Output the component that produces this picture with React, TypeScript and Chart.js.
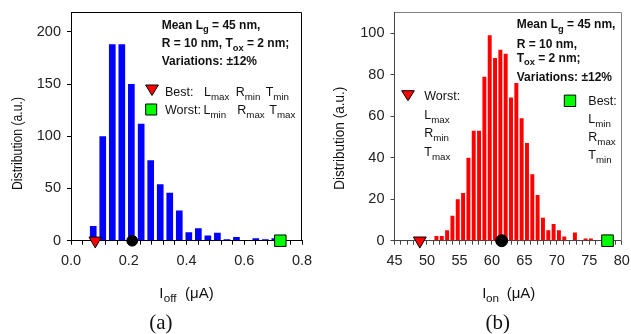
import React, { useEffect, useRef } from 'react';
import { Chart, registerables } from 'chart.js';

Chart.register(...registerables);

const FONT = "'Liberation Sans', Arial, Helvetica, sans-serif";
const SERIF = "'Liberation Serif', 'Times New Roman', serif";

// ---------- (a) I_off distribution ----------
const offBins = [0.077, 0.110, 0.143, 0.176, 0.209, 0.243, 0.276, 0.309, 0.342, 0.375, 0.408, 0.441, 0.474, 0.507, 0.540, 0.573, 0.607, 0.640, 0.673, 0.706];
const offCounts = [14, 100, 188, 188, 150, 112, 77, 54, 46, 29, 8, 12, 5, 7.5, 1.3, 3.5, 0, 2.3, 1.3, 2.3];
const offTriangleX = [0.084]; // Best: Lmax Rmin Tmin
const offMeanX = [0.212];
const offSquareX = [0.725]; // Worst: Lmin Rmax Tmax
const offXTickLabels = ['0.0', '0.2', '0.4', '0.6', '0.8'];
const offYTicks = [0, 50, 100, 150, 200];

// ---------- (b) I_on distribution ----------
const onBins = [51.46, 52.28, 53.10, 53.92, 54.74, 55.56, 56.38, 57.20, 58.02, 58.84, 59.66, 60.48, 61.30, 62.12, 62.94, 63.76, 64.58, 65.40, 66.22, 67.04, 67.86, 68.68, 69.50, 70.32, 71.14, 71.96, 72.78, 73.60, 74.42, 75.24];
const onCounts = [2.3, 2.3, 5, 12, 20, 23, 40, 53, 53, 79, 99, 88, 92, 90, 69, 76, 59, 47, 32, 22, 11, 5, 8, 5, 2, 0, 4, 0, 1, 1];
const onTriangleX = [48.9]; // Worst: Lmax Rmin Tmax
const onMeanX = [61.5];
const onSquareX = [77.8]; // Best: Lmin Rmax Tmin
const onXTickLabels = ['45', '50', '55', '60', '65', '70', '75', '80'];
const onYTicks = [0, 20, 40, 60, 80, 100];

type Seg = { t: string; sub?: boolean; x?: number };
type TextLine = { x: number; y: number; segs: Seg[]; size: number; bold?: boolean; family?: string; align?: 'left' | 'center' };
type Glyph = { kind: 'tri' | 'sq'; cx: number; top: number; w: number; h: number };

function drawLine(ctx: CanvasRenderingContext2D, L: TextLine) {
  const fam = L.family || FONT;
  const fontFor = (s: Seg) => `${L.bold ? 'bold ' : ''}${s.sub ? L.size * 0.78 : L.size}px ${fam}`;
  let total = 0;
  for (const s of L.segs) {
    ctx.font = fontFor(s);
    total += ctx.measureText(s.t).width;
  }
  let cx = L.align === 'center' ? L.x - total / 2 : L.x;
  ctx.textAlign = 'left';
  ctx.textBaseline = 'alphabetic';
  for (const s of L.segs) {
    if (s.x !== undefined) cx = s.x;
    ctx.font = fontFor(s);
    ctx.fillText(s.t, cx, L.y + (s.sub ? L.size * 0.33 : 0));
    cx += ctx.measureText(s.t).width;
  }
}

type Panel = {
  width: number; left: number;
  padTop: number; padRight: number; yWidth: number; xHeight: number;
  xMin: number; xMax: number; xStep: number; xLabels: string[];
  yMax: number; yTicks: number[];
  bins: number[]; counts: number[]; barColor: string; barPct: number;
  triX: number[]; meanX: number[]; sqX: number[];
  triR: number; circR: number; sqR: number;
  axisColor: string; frameColor: string;
  texts: TextLine[]; glyphs: Glyph[];
  yTitle: { x: number; cy: number; len: number };
};

function buildConfig(p: Panel): any {
  const overlay = {
    id: 'overlay',
    afterDraw(chart: any) {
      const ctx: CanvasRenderingContext2D = chart.ctx;
      const a = chart.chartArea;
      ctx.save();
      // frame (top and right)
      ctx.strokeStyle = p.frameColor;
      ctx.lineWidth = 1;
      ctx.beginPath();
      const t = Math.round(a.top) + 0.5;
      const r = Math.round(a.right) - 0.5;
      ctx.moveTo(Math.round(a.left), t);
      ctx.lineTo(r, t);
      ctx.lineTo(r, Math.round(a.bottom));
      ctx.stroke();
      // texts
      ctx.fillStyle = '#111';
      for (const L of p.texts) drawLine(ctx, L);
      // y title
      ctx.save();
      ctx.translate(p.yTitle.x, p.yTitle.cy);
      ctx.rotate(-Math.PI / 2);
      ctx.font = `15px ${FONT}`;
      const txt = 'Distribution (a.u.)';
      const w = ctx.measureText(txt).width;
      ctx.scale(p.yTitle.len / w, 1);
      ctx.textAlign = 'center';
      ctx.textBaseline = 'alphabetic';
      ctx.fillText(txt, 0, 0);
      ctx.restore();
      // legend glyphs
      for (const g of p.glyphs) {
        ctx.beginPath();
        if (g.kind === 'tri') {
          ctx.moveTo(g.cx - g.w / 2, g.top);
          ctx.lineTo(g.cx + g.w / 2, g.top);
          ctx.lineTo(g.cx, g.top + g.h);
          ctx.closePath();
          ctx.fillStyle = '#FF0000';
        } else {
          ctx.rect(g.cx - g.w / 2, g.top, g.w, g.h);
          ctx.fillStyle = '#00FF00';
        }
        ctx.fill();
        ctx.strokeStyle = '#000';
        ctx.lineWidth = 1;
        ctx.stroke();
      }
      ctx.restore();
    },
  };

  const tickFont = { family: FONT, size: 14.5 };
  return {
    type: 'bar',
    data: {
      datasets: [
        {
          type: 'scatter', data: p.triX.map((x) => ({ x, y: 0 })), pointStyle: 'triangle', rotation: 180,
          pointRadius: p.triR, backgroundColor: '#FF0000', borderColor: '#000', borderWidth: 1, clip: false, order: 0,
        },
        {
          type: 'scatter', data: p.meanX.map((x) => ({ x, y: 0 })), pointStyle: 'circle',
          pointRadius: p.circR, backgroundColor: '#000', borderColor: '#000', borderWidth: 1, clip: false, order: 0,
        },
        {
          type: 'scatter', data: p.sqX.map((x) => ({ x, y: 0 })), pointStyle: 'rect',
          pointRadius: p.sqR, backgroundColor: '#00FF00', borderColor: '#000', borderWidth: 1, clip: false, order: 0,
        },
        {
          type: 'bar', data: p.bins.map((x, i) => ({ x, y: p.counts[i] })), backgroundColor: p.barColor,
          borderWidth: 0, barPercentage: p.barPct, categoryPercentage: 1, order: 1,
        },
      ],
    },
    options: {
      responsive: false,
      animation: false,
      devicePixelRatio: 1,
      events: [],
      layout: { padding: { top: p.padTop, right: p.padRight, bottom: 0, left: 0 } },
      plugins: { legend: { display: false }, tooltip: { enabled: false } },
      scales: {
        x: {
          type: 'linear', min: p.xMin, max: p.xMax, offset: false,
          grid: { offset: false, drawOnChartArea: false, tickLength: 4, color: p.axisColor },
          border: { color: p.axisColor, width: 1 },
          ticks: {
            stepSize: p.xStep, autoSkip: false, maxRotation: 0, minRotation: 0, padding: 8, color: '#222', font: tickFont,
            callback: (v: any) => {
              const n = Number(v);
              const lbl = p.xLabels.find((l) => Math.abs(parseFloat(l) - n) < 1e-6);
              return lbl ?? '';
            },
          },
          afterFit: (s: any) => { s.height = p.xHeight; s.paddingLeft = 0; s.paddingRight = 0; },
        },
        y: {
          type: 'linear', min: 0, max: p.yMax,
          grid: { drawOnChartArea: false, tickLength: 4, color: p.axisColor },
          border: { color: p.axisColor, width: 1 },
          ticks: { padding: 6, color: '#222', font: tickFont },
          afterBuildTicks: (s: any) => { s.ticks = p.yTicks.map((v) => ({ value: v })); },
          afterFit: (s: any) => { s.width = p.yWidth; s.paddingTop = 0; s.paddingBottom = 0; },
        },
      },
    },
    plugins: [overlay],
  };
}

const leftPanel: Panel = {
  width: 315, left: 0,
  padTop: 12, padRight: 13, yWidth: 71, xHeight: 93.3,
  xMin: 0, xMax: 0.8, xStep: 0.04, xLabels: offXTickLabels,
  yMax: 219, yTicks: offYTicks,
  bins: offBins, counts: offCounts, barColor: '#0000FF', barPct: 0.7,
  triX: offTriangleX, meanX: offMeanX, sqX: offSquareX,
  triR: 7.2, circR: 5.4, sqR: 8.1,
  axisColor: '#000', frameColor: '#000',
  yTitle: { x: 21.5, cy: 143.5, len: 93 },
  glyphs: [
    { kind: 'tri', cx: 152, top: 85, w: 12.7, h: 10.5 },
    { kind: 'sq', cx: 151.2, top: 104, w: 11, h: 11 },
  ],
  texts: [
    { x: 161.7, y: 28.5, size: 12, bold: true, segs: [{ t: 'Mean L' }, { t: 'g', sub: true }, { t: ' = 45 nm,' }] },
    { x: 161.7, y: 46.7, size: 12, bold: true, segs: [{ t: 'R = 10 nm, T' }, { t: 'ox', sub: true }, { t: ' = 2 nm;' }] },
    { x: 161.7, y: 65, size: 12, bold: true, segs: [{ t: 'Variations: ±12%' }] },
    {
      x: 165, y: 95.7, size: 12.5,
      segs: [{ t: 'Best:' }, { t: 'L', x: 204 }, { t: 'max', sub: true }, { t: 'R', x: 235.7 }, { t: 'min', sub: true }, { t: 'T', x: 265.7 }, { t: 'min', sub: true }],
    },
    {
      x: 165, y: 114, size: 12.5,
      segs: [{ t: 'Worst:' }, { t: 'L', x: 203.5 }, { t: 'min', sub: true }, { t: 'R', x: 237.3 }, { t: 'max', sub: true }, { t: 'T', x: 269.3 }, { t: 'max', sub: true }],
    },
    { x: 159.3, y: 297.5, size: 15, segs: [{ t: 'I' }, { t: 'off', sub: true, x: 163.8 }, { t: '(μA)', x: 185 }] },
    { x: 160.8, y: 328.7, size: 21, family: SERIF, align: 'center', segs: [{ t: '(a)' }] },
  ],
};

const rightPanel: Panel = {
  width: 316, left: 315,
  padTop: 12.3, padRight: 6.7, yWidth: 79.5, xHeight: 93.3,
  xMin: 45, xMax: 80, xStep: 1, xLabels: onXTickLabels,
  yMax: 110, yTicks: onYTicks,
  bins: onBins, counts: onCounts, barColor: '#FF0000', barPct: 0.74,
  triX: onTriangleX, meanX: onMeanX, sqX: onSquareX,
  triR: 7.4, circR: 6, sqR: 8.2,
  axisColor: '#444', frameColor: '#808080',
  yTitle: { x: 28.7, cy: 138.3, len: 103 },
  glyphs: [
    { kind: 'tri', cx: 93, top: 90.7, w: 12.7, h: 10 },
    { kind: 'sq', cx: 255, top: 95.1, w: 11.4, h: 11.4 },
  ],
  texts: [
    { x: 201.7, y: 28.3, size: 12, bold: true, segs: [{ t: 'Mean L' }, { t: 'g', sub: true }, { t: ' = 45 nm,' }] },
    { x: 201.7, y: 47.5, size: 12, bold: true, segs: [{ t: 'R = 10 nm,' }] },
    { x: 201.7, y: 61.5, size: 12, bold: true, segs: [{ t: 'T' }, { t: 'ox', sub: true }, { t: ' = 2 nm;' }] },
    { x: 201.7, y: 81, size: 12, bold: true, segs: [{ t: 'Variations: ±12%' }] },
    { x: 109.3, y: 100, size: 12.5, segs: [{ t: 'Worst:' }] },
    { x: 109.3, y: 119, size: 12.5, segs: [{ t: 'L' }, { t: 'max', sub: true }] },
    { x: 109.3, y: 137.3, size: 12.5, segs: [{ t: 'R' }, { t: 'min', sub: true }] },
    { x: 109.3, y: 155.7, size: 12.5, segs: [{ t: 'T' }, { t: 'max', sub: true }] },
    { x: 273.3, y: 104.5, size: 12.5, segs: [{ t: 'Best:' }] },
    { x: 273.3, y: 122.5, size: 12.5, segs: [{ t: 'L' }, { t: 'min', sub: true }] },
    { x: 273.3, y: 140.5, size: 12.5, segs: [{ t: 'R' }, { t: 'max', sub: true }] },
    { x: 273.3, y: 159, size: 12.5, segs: [{ t: 'T' }, { t: 'min', sub: true }] },
    { x: 167.3, y: 297.5, size: 15, segs: [{ t: 'I' }, { t: 'on', sub: true, x: 171 }, { t: '(μA)', x: 191.7 }] },
    { x: 182.8, y: 328.5, size: 21, family: SERIF, align: 'center', segs: [{ t: '(b)' }] },
  ],
};

function HistChart({ panel }: { panel: Panel }) {
  const ref = useRef<HTMLCanvasElement>(null);
  useEffect(() => {
    const chart = new Chart(ref.current as HTMLCanvasElement, buildConfig(panel));
    return () => chart.destroy();
  }, [panel]);
  return (
    <canvas
      ref={ref}
      width={panel.width}
      height={334}
      style={{ position: 'absolute', left: panel.left, top: 0, width: panel.width, height: 334 }}
    />
  );
}

export default function App() {
  return (
    <div style={{ position: 'absolute', left: 0, top: 0, width: 631, height: 334, overflow: 'hidden', background: '#fff' }}>
      <HistChart panel={leftPanel} />
      <HistChart panel={rightPanel} />
    </div>
  );
}
